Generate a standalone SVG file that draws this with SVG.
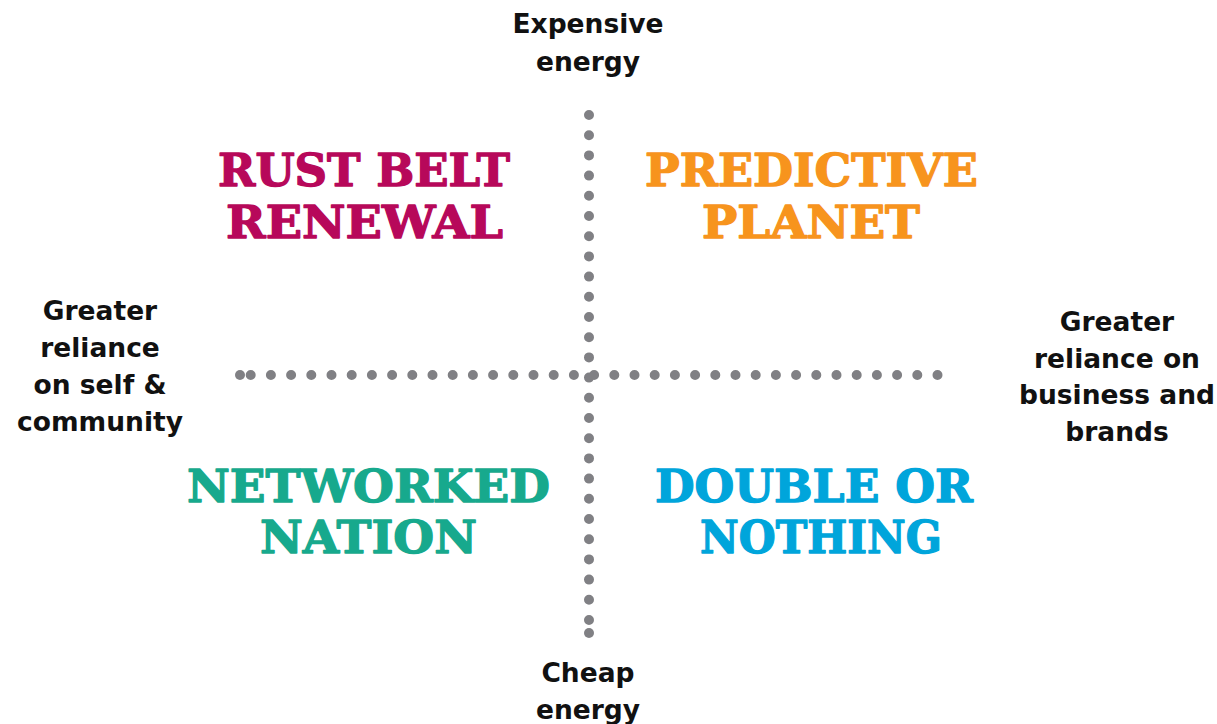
<svg xmlns="http://www.w3.org/2000/svg" width="1217" height="724" viewBox="0 0 1217 724">
  <style>
    .axis { stroke: #808084; stroke-width: 10; stroke-linecap: round; stroke-dasharray: 0 20.2; fill: none; }
    .dot { fill: #808084; }
    .lbl { font-family: "DejaVu Sans", "Liberation Sans", sans-serif; font-weight: bold; font-size: 26.5px; fill: #111111; text-anchor: middle; }
    .ttl { font-family: "DejaVu Serif", "Liberation Serif", serif; font-weight: bold; font-size: 45px; text-anchor: middle; stroke-width: 1.3; stroke-linejoin: round; }
    .rust { fill: #B7085A; stroke: #B7085A; }
    .pred { fill: #F7941D; stroke: #F7941D; }
    .net { fill: #17A98D; stroke: #17A98D; }
    .dbl { fill: #00A5DB; stroke: #00A5DB; }
  </style>
  <rect x="0" y="0" width="1217" height="724" fill="#ffffff"/>

  <g id="connectors">
    <line class="axis" x1="250.7" y1="375" x2="938" y2="375"/>
    <circle class="dot" cx="240" cy="375" r="5"/>
    <line class="axis" x1="589" y1="115" x2="589" y2="621"/>
    <circle class="dot" cx="589" cy="633" r="5"/>
  </g>

  <g id="label-top">
    <text class="lbl" x="588" y="33">Expensive</text>
    <text class="lbl" x="588" y="71">energy</text>
  </g>
  <g id="label-bottom">
    <text class="lbl" x="588" y="682">Cheap</text>
    <text class="lbl" x="588" y="719">energy</text>
  </g>
  <g id="label-left">
    <text class="lbl" x="100" y="320">Greater</text>
    <text class="lbl" x="100" y="357">reliance</text>
    <text class="lbl" x="100" y="394">on self &amp;</text>
    <text class="lbl" x="100" y="431">community</text>
  </g>
  <g id="label-right">
    <text class="lbl" x="1117" y="331">Greater</text>
    <text class="lbl" x="1117" y="368">reliance on</text>
    <text class="lbl" x="1117" y="404">business and</text>
    <text class="lbl" x="1117" y="441">brands</text>
  </g>

  <g id="rust-belt-renewal">
    <text class="ttl rust" x="364" y="186" textLength="292" lengthAdjust="spacingAndGlyphs">RUST BELT</text>
    <text class="ttl rust" x="364.5" y="238" textLength="277" lengthAdjust="spacingAndGlyphs">RENEWAL</text>
  </g>
  <g id="predictive-planet">
    <text class="ttl pred" x="811.5" y="186" textLength="333" lengthAdjust="spacingAndGlyphs">PREDICTIVE</text>
    <text class="ttl pred" x="811" y="238" textLength="218" lengthAdjust="spacingAndGlyphs">PLANET</text>
  </g>
  <g id="networked-nation">
    <text class="ttl net" x="368.5" y="502" textLength="363" lengthAdjust="spacingAndGlyphs">NETWORKED</text>
    <text class="ttl net" x="368.5" y="553" textLength="217" lengthAdjust="spacingAndGlyphs">NATION</text>
  </g>
  <g id="double-or-nothing">
    <text class="ttl dbl" x="814" y="502" textLength="318" lengthAdjust="spacingAndGlyphs">DOUBLE OR</text>
    <text class="ttl dbl" x="821" y="553" textLength="242" lengthAdjust="spacingAndGlyphs">NOTHING</text>
  </g>
</svg>
